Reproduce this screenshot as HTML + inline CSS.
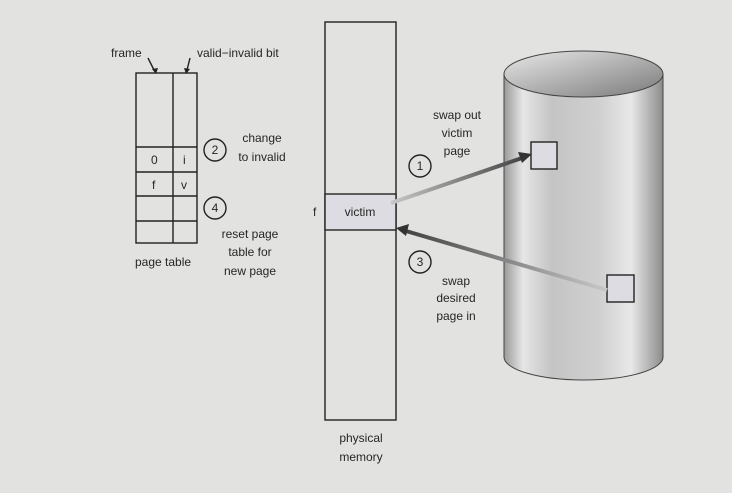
<!DOCTYPE html>
<html><head><meta charset="utf-8"><style>
html,body{margin:0;padding:0;background:#e2e2e0;}
svg{display:block;font-family:"Liberation Sans",sans-serif;}
text{fill:#262626;font-size:12px;}
</style></head><body>
<svg width="732" height="493" viewBox="0 0 732 493">
<defs>
<linearGradient id="cyl" x1="0" x2="1" y1="0" y2="0">
<stop offset="0" stop-color="#9a9a9a"/><stop offset="0.12" stop-color="#e6e6e6"/><stop offset="0.3" stop-color="#c4c4c4"/><stop offset="0.6" stop-color="#d0d0d0"/><stop offset="0.8" stop-color="#e8e8e8"/><stop offset="1" stop-color="#8c8c8c"/>
</linearGradient>
<linearGradient id="topg" x1="0" x2="1" y1="0" y2="1">
<stop offset="0" stop-color="#e8e8e8"/><stop offset="1" stop-color="#7a7a7a"/>
</linearGradient>
<linearGradient id="a1" x1="0" x2="1"><stop offset="0" stop-color="#c8c8c8"/><stop offset="1" stop-color="#444"/></linearGradient>
<linearGradient id="a3" x1="1" x2="0"><stop offset="0" stop-color="#c8c8c8"/><stop offset="1" stop-color="#444"/></linearGradient>
</defs>
<rect width="732" height="493" fill="#e2e2e0"/>
<g stroke="#222" stroke-width="1.4" fill="none">
<rect x="136" y="73" width="61" height="170"/>
<line x1="173" y1="73" x2="173" y2="243"/>
<line x1="136" y1="147" x2="197" y2="147"/>
<line x1="136" y1="172" x2="197" y2="172"/>
<line x1="136" y1="196" x2="197" y2="196"/>
<line x1="136" y1="221" x2="197" y2="221"/>
<path d="M148 58 L154 70"/><path d="M190 58 L187 70"/>
</g>
<polygon points="152,69 158,68 156,74" fill="#222"/>
<polygon points="184,68 190,69 186,74" fill="#222"/>
<text x="111" y="57">frame</text>
<text x="197" y="57">valid−invalid bit</text>
<text x="151" y="164">0</text>
<text x="183" y="164">i</text>
<text x="152" y="189">f</text>
<text x="181" y="189">v</text>
<text x="135" y="266">page table</text>
<g stroke="#222" stroke-width="1.4" fill="none">
<circle cx="215" cy="150" r="11"/><circle cx="215" cy="208" r="11"/>
<circle cx="420" cy="166" r="11"/><circle cx="420" cy="262" r="11"/>
</g>
<g text-anchor="middle">
<text x="215" y="154">2</text>
<text x="215" y="212">4</text>
<text x="420" y="170">1</text>
<text x="420" y="266">3</text>
<text x="262" y="142">change</text>
<text x="262" y="161">to invalid</text>
<text x="250" y="238">reset page</text>
<text x="250" y="256">table for</text>
<text x="250" y="275">new page</text>
<text x="361" y="442">physical</text>
<text x="361" y="461">memory</text>
<text x="457" y="119">swap out</text>
<text x="457" y="137">victim</text>
<text x="457" y="155">page</text>
<text x="456" y="285">swap</text>
<text x="456" y="302">desired</text>
<text x="456" y="320">page in</text>
</g>
<g>
<rect x="325" y="22" width="71" height="398" fill="none" stroke="#222" stroke-width="1.4"/>
<rect x="325" y="194" width="71" height="36" fill="#dcdce2" stroke="#222" stroke-width="1.4"/>
<text x="360" y="216" text-anchor="middle">victim</text>
<text x="313" y="216">f</text>
</g>
<g>
<path d="M504 74 L504 357 A79.5 23 0 0 0 663 357 L663 74 Z" fill="url(#cyl)" stroke="#444" stroke-width="1"/>
<ellipse cx="583.5" cy="74" rx="79.5" ry="23" fill="url(#topg)" stroke="#444" stroke-width="1"/>
<rect x="531" y="142" width="26" height="27" fill="#dcdce2" stroke="#222" stroke-width="1.4"/>
<rect x="607" y="275" width="27" height="27" fill="#dcdce2" stroke="#222" stroke-width="1.4"/>
</g>
<g>
<line x1="391" y1="203" x2="522" y2="158" stroke="url(#a1)" stroke-width="4"/>
<polygon points="532,154 518,152 522,163" fill="#333"/>
</g>
<g>
<line x1="607" y1="290" x2="406" y2="231" stroke="url(#a3)" stroke-width="4"/>
<polygon points="396,228 409,224 406,236" fill="#333"/>
</g>
</svg>
</body></html>
